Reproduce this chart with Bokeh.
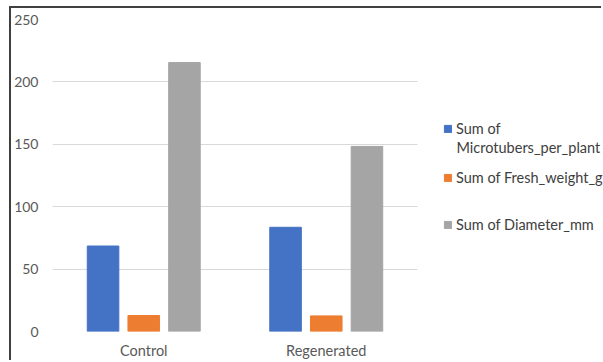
from bokeh.plotting import figure
from bokeh.models import (ColumnDataSource, Range1d, Legend, LegendItem, Label, FixedTicker)
from bokeh.embed import file_html
from bokeh.resources import INLINE

categories = ["Control", "Regenerated"]
microtubers = [68.5, 83.5]
fresh_weight = [12.8, 12.5]
diameter = [215.5, 148.3]
colors = ["#4472C4", "#ED7D31", "#A5A5A5"]

FONT = "Lato"

# category centres on a numeric axis (one unit per category)
centres = [i + 0.5 for i in range(len(categories))]
off = 0.223
src = ColumnDataSource(dict(
    xm=[c - off for c in centres], xf=list(centres), xd=[c + off for c in centres],
    m=microtubers, f=fresh_weight, d=diameter))

# canvas sits inside a 2px chart-area border (left/top), offset (11, 8) on the page
p = figure(width=592, height=354, x_range=Range1d(0, 551 / 182.5),
           y_range=Range1d(0, 250), output_backend="svg", toolbar_location=None,
           min_border_left=41, min_border_right=0, min_border_top=11, min_border_bottom=31,
           margin=(6, 0, 0, 9))
p.styles = {"border-top": "2px solid #404040", "border-left": "2px solid #404040"}
p.outline_line_color = None
p.background_fill_color = "white"
p.border_fill_color = "white"

w = 0.173
r1 = p.vbar(x="xm", top="m", width=w, source=src, color=colors[0])
r2 = p.vbar(x="xf", top="f", width=w, source=src, color=colors[1])
r3 = p.vbar(x="xd", top="d", width=w, source=src, color=colors[2])

p.xgrid.grid_line_color = None
p.ygrid.grid_line_color = "#D9D9D9"
p.ygrid.grid_line_width = 1
p.ygrid.cross_bounds = (0, len(categories))
p.yaxis.ticker = FixedTicker(ticks=[0, 50, 100, 150, 200, 250])
p.xaxis.ticker = FixedTicker(ticks=centres)
p.xaxis.major_label_overrides = {c: name for c, name in zip(centres, categories)}

for ax in (p.xaxis[0], p.yaxis[0]):
    ax.axis_line_color = None
    ax.major_tick_line_color = None
    ax.minor_tick_line_color = None
    ax.major_tick_out = 0
    ax.major_tick_in = 0
    ax.major_label_text_font = FONT
    ax.major_label_text_color = "#595959"
p.yaxis.major_label_text_font_size = "14px"
p.xaxis.major_label_text_font_size = "14.5px"
p.yaxis.major_label_standoff = 14
p.xaxis.major_label_standoff = 10

LEG_SIZE = "14.5px"

def make_legend(label, r, x, y):
    leg = Legend(items=[LegendItem(label=label, renderers=[r])], location=(x, y))
    leg.border_line_color = None
    leg.background_fill_alpha = 0
    leg.padding = 0
    leg.margin = 0
    leg.spacing = 0
    leg.glyph_width = 9
    leg.glyph_height = 9
    leg.label_standoff = 4
    leg.label_height = 20
    leg.label_text_font = FONT
    leg.label_text_font_size = LEG_SIZE
    leg.label_text_color = "#404040"
    p.add_layout(leg)

make_legend("Sum of", r1, 391, 193)
make_legend("Sum of Fresh_weight_g", r2, 391, 144)
make_legend("Sum of Diameter_mm", r3, 391, 97)

p.add_layout(Label(x=404, y=184, x_units="screen", y_units="screen",
                   text="Microtubers_per_plant", text_font=FONT, text_font_size=LEG_SIZE,
                   text_color="#404040", text_baseline="middle"))

open("out.html", "w").write(file_html(p, INLINE))
